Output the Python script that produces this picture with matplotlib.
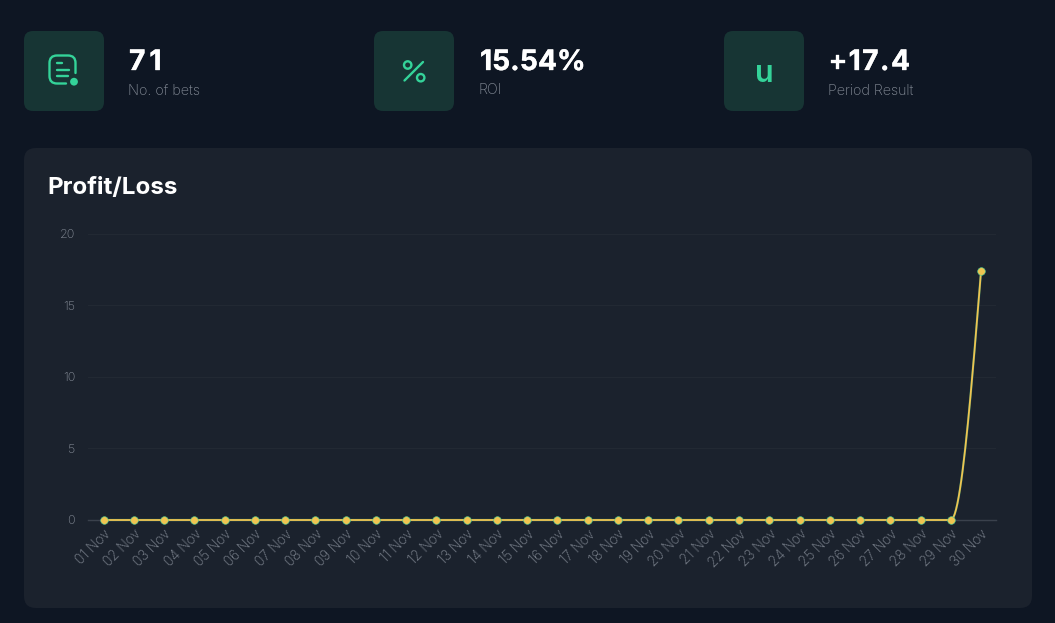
import matplotlib
matplotlib.use("Agg")
import matplotlib.pyplot as plt
import numpy as np
from matplotlib import patheffects
from matplotlib.patches import Circle, FancyBboxPatch, PathPatch
from matplotlib.path import Path

W, H = 1055, 623

days = ["%02d Nov" % d for d in range(1, 31)]
profit = [0.0] * 29 + [17.4]
y_ticks = [0, 5, 10, 15, 20]
stat_values = ["71", "15.54%", "+17.4"]
stat_labels = ["No. of bets", "ROI", "Period Result"]

BG = "#0e1623"
CARD = "#1b222d"
TILE = "#173534"
GREEN = "#34d399"
YELLOW = "#efc451"
GREY = "#858c97"

plt.rcParams["font.family"] = ["Inter", "DejaVu Sans"]


def monotone_curve(x, y, per_seg=24):
    # monotone cubic through the points, same idea as d3 curveMonotoneX
    x = np.asarray(x, float)
    y = np.asarray(y, float)
    sec = np.diff(y) / np.diff(x)
    m = np.zeros(len(y))
    for i in range(1, len(y) - 1):
        if sec[i - 1] * sec[i] > 0:
            m[i] = 2 * sec[i - 1] * sec[i] / (sec[i - 1] + sec[i])
    m[0] = (3 * sec[0] - m[1]) / 2
    m[-1] = (3 * sec[-1] - m[-2]) / 2
    xs, ys = [], []
    for i in range(len(y) - 1):
        t = np.linspace(0, 1, per_seg)
        h = x[i + 1] - x[i]
        xs.append(x[i] + t * h)
        ys.append((2*t**3 - 3*t**2 + 1) * y[i] + (t**3 - 2*t**2 + t) * h * m[i]
                  + (3*t**2 - 2*t**3) * y[i + 1] + (t**3 - t**2) * h * m[i + 1])
    return np.concatenate(xs), np.concatenate(ys)


def box(ax, x0, y0, x1, y1, r, color):
    ax.add_patch(FancyBboxPatch((x0 + r, y0 + r), x1 - x0 - 2*r, y1 - y0 - 2*r,
                                boxstyle="round,pad=%f,rounding_size=%f" % (r, r),
                                fc=color, ec="none"))


def spaced_text(ax, x, y, s, spacing, **kw):
    # letter spacing, text is placed glyph by glyph
    rend = ax.figure.canvas.get_renderer()
    bold = [patheffects.withStroke(linewidth=0.25, foreground=kw["color"])]
    for i, ch in enumerate(s):
        w = ax.text(0, 0, s[:i] + "|", alpha=0, **kw)
        w0 = ax.text(0, 0, "|", alpha=0, **kw)
        adv = w.get_window_extent(rend).width - w0.get_window_extent(rend).width
        w.remove()
        w0.remove()
        ax.text(x + adv + spacing * i, y, ch, ha="left", va="baseline", path_effects=bold, **kw)


fig = plt.figure(figsize=(W / 100, H / 100), dpi=100, facecolor=BG)

# page layer in pixel coordinates, y going down
bg = fig.add_axes([0, 0, 1, 1], zorder=0)
bg.set_xlim(0, W)
bg.set_ylim(H, 0)
bg.axis("off")

box(bg, 24, 148, 1032, 608, 12, CARD)
for x0, val, lab, dx, gap in zip([24, 374, 724], stat_values, stat_labels, [105, 106, 104], [4.0, 0.1, 1.5]):
    box(bg, x0, 31, x0 + 80, 111, 9, TILE)
    spaced_text(bg, x0 + dx, 70, val, gap, color="white", fontsize=20.3, fontweight="bold")
    bg.text(x0 + 104, 94.5, lab, color=GREY, fontsize=10.3, fontweight="light", ha="left", va="baseline")

bg.text(47.5, 194, "Profit/Loss", color="white", fontsize=17.4, fontweight="bold", ha="left", va="baseline")

# icon: document with a dot
verts = [(75.5, 73), (75.5, 63), (75.5, 55.5), (68, 55.5), (57, 55.5), (49.5, 55.5), (49.5, 63),
         (49.5, 76), (49.5, 83.5), (57, 83.5), (66, 83.5)]
codes = [Path.MOVETO, Path.LINETO, Path.CURVE3, Path.CURVE3, Path.LINETO, Path.CURVE3, Path.CURVE3,
         Path.LINETO, Path.CURVE3, Path.CURVE3, Path.LINETO]
bg.add_patch(PathPatch(Path(verts, codes), fc="none", ec=GREEN, lw=1.7, capstyle="round"))
for x0, x1, y in [(56.5, 62, 63.3), (56.5, 68.5, 70), (56.5, 67.5, 76)]:
    bg.plot([x0, x1], [y, y], color=GREEN, lw=1.7, solid_capstyle="round")
bg.add_patch(Circle((74, 81.7), 3.9, fc=GREEN, ec="none"))

# icon: percent
bg.plot([404.5, 423], [80.5, 62], color=GREEN, lw=1.7, solid_capstyle="round")
bg.add_patch(Circle((407.7, 65), 3.7, fc="none", ec=GREEN, lw=1.7))
bg.add_patch(Circle((420.7, 77.7), 3.7, fc="none", ec=GREEN, lw=1.7))

# icon: unit
bg.text(764, 81.5, "u", color=GREEN, fontsize=22, fontweight="semibold", ha="center", va="baseline")

# chart
left, right, top, bottom = 88.4, 996.2, 233.5, 520
ax = fig.add_axes([left / W, 1 - bottom / H, (right - left) / W, (bottom - top) / H], zorder=1)
ax.patch.set_alpha(0)
x = np.arange(len(days))
ax.set_xlim(-0.5, len(days) - 0.5)
ax.set_ylim(0, 20)
for s in ax.spines.values():
    s.set_visible(False)
ax.grid(axis="y", color="#222933", lw=0.8)
ax.set_axisbelow(True)
ax.axhline(0, color="#3a414c", lw=1.0, clip_on=False, zorder=1)

cx, cy = monotone_curve(x, profit)
ax.plot(cx, cy, color=GREEN, lw=1.7, alpha=0.4, clip_on=False, zorder=3)
ax.plot(cx, cy, color=YELLOW, lw=1.3, clip_on=False, zorder=4)
ax.plot(x, profit, ls="none", marker="o", ms=5.5, mfc=YELLOW, mec="#4fc98e", mew=0.45, clip_on=False, zorder=5)

ax.set_xticks(x)
ax.set_xticklabels(days, rotation=45, ha="right", rotation_mode="anchor", color=GREY, fontsize=9.8, fontweight="light")
ax.set_yticks(y_ticks)
ax.set_yticklabels(y_ticks, color=GREY, fontsize=9, fontweight="light")
ax.tick_params(axis="both", length=0)
ax.tick_params(axis="x", pad=5)
ax.tick_params(axis="y", pad=9.5)

fig.savefig("out.png", dpi=100, facecolor=BG)
